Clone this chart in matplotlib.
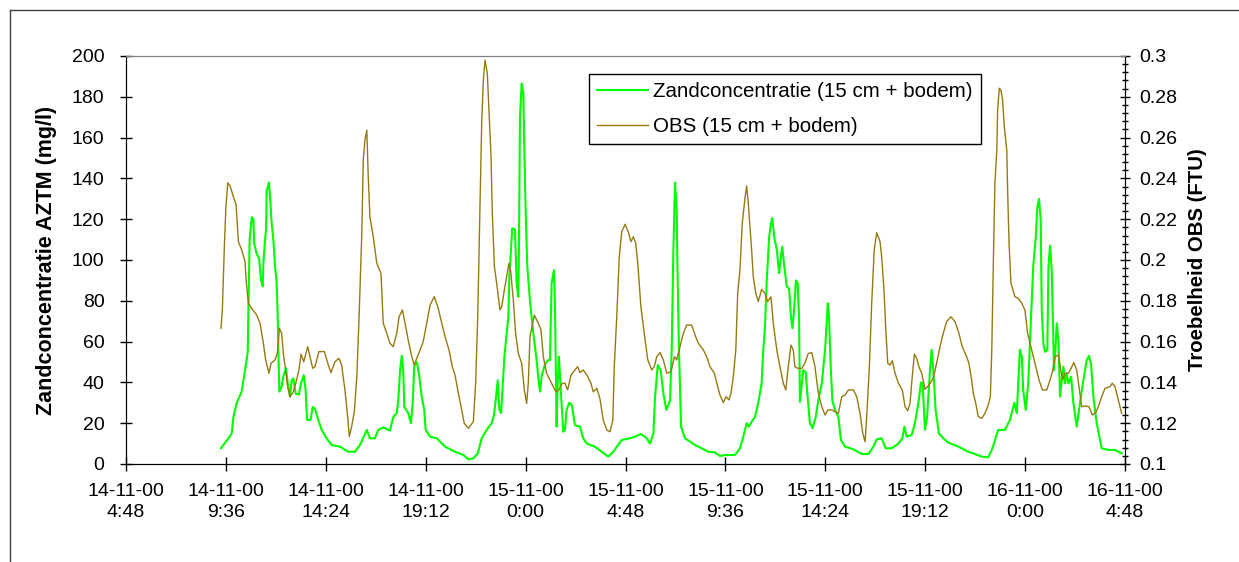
import datetime as dt
import numpy as np
import matplotlib
matplotlib.use("Agg")
import matplotlib.pyplot as plt
from matplotlib.lines import Line2D
from matplotlib.ticker import MultipleLocator, FuncFormatter

plt.rcParams['font.family'] = ['Liberation Sans', 'DejaVu Sans']

# time in hours since 14-11-00 0:00
zand_t = [9.36, 9.72, 9.88, 9.96, 10.12, 10.36, 10.52, 10.65, 10.68, 10.74, 10.84, 10.92, 10.96, 11.08,
          11.19, 11.29, 11.37, 11.40, 11.48, 11.53, 11.56, 11.67, 11.72, 11.80, 11.88, 11.96, 12.04,
          12.09, 12.12, 12.17, 12.28, 12.36, 12.49, 12.57, 12.68, 12.76, 12.84, 12.95, 13.11, 13.21,
          13.34, 13.43, 13.50, 13.67, 13.77, 13.88, 14.04, 14.20, 14.44, 14.68, 15.08, 15.48, 15.80,
          16.04, 16.37, 16.52, 16.76, 16.92, 17.16, 17.48, 17.64, 17.81, 17.88, 17.97, 18.05, 18.12,
          18.17, 18.36, 18.49, 18.58, 18.65, 18.77, 18.88, 19.01, 19.13, 19.20, 19.41, 19.73, 20.13,
          20.61, 21.01, 21.25, 21.49, 21.70, 21.89, 22.13, 22.37, 22.48, 22.58, 22.66, 22.74, 22.82,
          22.88, 22.98, 23.09, 23.17, 23.22, 23.30, 23.36, 23.49, 23.57, 23.65, 23.68, 23.73, 23.81,
          23.89, 23.94, 24.01, 24.08, 24.21, 24.37, 24.53, 24.64, 24.69, 24.77, 24.93, 25.09, 25.17,
          25.25, 25.36, 25.41, 25.49, 25.54, 25.60, 25.69, 25.81, 25.89, 25.97, 26.09, 26.22, 26.37,
          26.61, 26.77, 26.94, 27.33, 27.66, 27.97, 28.21, 28.62, 29.02, 29.26, 29.54, 29.82, 29.98,
          30.14, 30.22, 30.35, 30.49, 30.62, 30.76, 30.94, 31.02, 31.10, 31.18, 31.26, 31.31, 31.37,
          31.47, 31.66, 31.90, 32.14, 32.46, 32.78, 33.10, 33.34, 33.58, 34.06, 34.30, 34.46, 34.62,
          34.73, 34.86, 35.02, 35.18, 35.34, 35.42, 35.50, 35.58, 35.70, 35.79, 35.85, 35.95, 36.07,
          36.18, 36.27, 36.33, 36.43, 36.55, 36.66, 36.75, 36.82, 36.90, 36.99, 37.07, 37.14, 37.18,
          37.27, 37.34, 37.46, 37.55, 37.66, 37.79, 37.94, 38.06, 38.23, 38.39, 38.52, 38.58, 38.66,
          38.74, 38.87, 39.03, 39.15, 39.35, 39.75, 40.15, 40.47, 40.71, 40.87, 41.11, 41.30, 41.59,
          41.91, 42.10, 42.20, 42.31, 42.55, 42.71, 42.87, 43.00, 43.08, 43.19, 43.29, 43.43, 43.51,
          43.59, 43.70, 43.86, 44.07, 44.31, 44.79, 45.27, 45.59, 45.92, 46.23, 46.40, 46.71, 47.03,
          47.27, 47.48, 47.60, 47.67, 47.75, 47.84, 47.91, 48.03, 48.15, 48.24, 48.39, 48.51, 48.59,
          48.67, 48.75, 48.80, 48.88, 48.96, 49.07, 49.12, 49.20, 49.28, 49.33, 49.39, 49.47, 49.52,
          49.60, 49.68, 49.76, 49.84, 49.92, 50.00, 50.08, 50.21, 50.32, 50.48, 50.64, 50.80, 50.96,
          51.07, 51.17, 51.28, 51.44, 51.68, 52.00, 52.32, 52.64]
zand = [7.7, 12.6, 15, 23, 30, 35.5, 46, 55, 75, 110, 121, 120, 108, 103,
        101, 90, 87, 98, 110, 115, 134, 138, 131, 118, 110, 97, 88.6,
        72, 56, 35.5, 38, 43, 47, 39.5, 33, 41, 42, 34.6, 34, 39.5,
        43.6, 36, 21.6, 21.6, 28, 27, 21.6, 16.7, 12.6, 9.3, 8.5, 6, 6,
        9.3, 16.7, 12.6, 12.6, 16.7, 18, 16.3, 23, 25, 31, 46, 53, 46,
        28, 25, 20, 31, 48, 50, 44, 33, 26.5, 16.7, 13.4, 12.6, 8.5,
        6, 4.4, 2.3, 2.8, 5.2, 12.6, 16.7, 20, 24, 33, 41, 26.5, 25,
        34.6, 52.6, 64, 72, 92, 105, 115.5, 115, 88.6, 82, 105, 170, 186.6,
        181.7, 154, 121, 97, 80, 64, 51, 39.5, 35.5, 43, 49, 51, 51,
        88.6, 95, 78.8, 18.3, 39.5, 52.6, 36, 15.8, 16.7, 26.5, 30, 29, 19,
        18.3, 12.6, 10, 8.5, 6, 3.6, 6, 11.8, 12.6, 13.4, 14.7, 12.6, 10,
        15, 33, 48.5, 46, 34.6, 26.5, 31, 56, 105, 138, 124.5, 88.6, 56,
        18.3, 12.6, 11, 9.3, 7.7, 6, 5.7, 3.9, 4.4, 4.4, 7.7, 13.4, 20,
        18.3, 20.7, 23, 30, 39.5, 56, 67, 88.6, 111, 118, 120.5, 111, 105,
        93.5, 101.6, 106.5, 96.7, 87, 86, 72, 66.5, 75.5, 90, 88.6, 72, 30.5,
        39.5, 46, 45, 33, 20, 17.5, 23, 31, 39.5, 56, 78.8, 72, 47.7,
        31, 26.5, 23, 11.8, 8.5, 7.2, 4.9, 4.9, 8.5, 12.1, 12.6, 7.7, 7.7,
        10, 12.6, 18.3, 13.4, 14.2, 20, 30, 40, 39.5, 16.7, 23, 46, 56,
        46, 26.5, 15, 12.6, 10.5, 8.5, 6, 4.9, 3.6, 3.3, 6.9, 16.7, 16.7,
        21.6, 30, 25, 39.5, 56, 52.6, 36, 26.5, 39.5, 60.8, 96.7, 111, 126,
        130, 119.6, 75.5, 59, 55, 56, 96.7, 107, 95, 72, 46, 59, 69,
        60.8, 33, 41, 47.7, 39.5, 44.4, 39.5, 42.8, 30, 18.3, 30, 41, 51,
        53, 49, 33, 20, 7.7, 6.9, 6.9, 5.2]

obs_t = [9.36, 9.43, 9.52, 9.60, 9.69, 9.80, 9.96, 10.09, 10.20, 10.36, 10.52, 10.57, 10.68, 10.84,
         11.08, 11.24, 11.40, 11.51, 11.67, 11.77, 11.96, 12.07, 12.17, 12.28, 12.36, 12.47, 12.57,
         12.68, 12.84, 13.00, 13.11, 13.21, 13.34, 13.53, 13.64, 13.77, 13.88, 14.07, 14.33, 14.52,
         14.65, 14.84, 15.03, 15.16, 15.32, 15.45, 15.53, 15.64, 15.77, 15.89, 16.00, 16.13, 16.20,
         16.28, 16.37, 16.44, 16.52, 16.68, 16.85, 17.05, 17.16, 17.33, 17.48, 17.64, 17.81, 17.92,
         18.08, 18.21, 18.36, 18.53, 18.65, 18.77, 18.93, 19.08, 19.25, 19.41, 19.61, 19.78, 19.97,
         20.13, 20.32, 20.48, 20.61, 20.77, 20.93, 21.05, 21.25, 21.49, 21.60, 21.70, 21.78, 21.89,
         21.97, 22.05, 22.16, 22.24, 22.34, 22.40, 22.50, 22.61, 22.69, 22.77, 22.85, 22.98, 23.09,
         23.20, 23.28, 23.41, 23.52, 23.65, 23.81, 23.94, 24.05, 24.13, 24.21, 24.42, 24.61, 24.74,
         24.85, 25.01, 25.25, 25.45, 25.60, 25.76, 25.89, 26.02, 26.18, 26.37, 26.50, 26.61, 26.77,
         26.94, 27.14, 27.25, 27.42, 27.57, 27.73, 27.90, 28.06, 28.19, 28.26, 28.38, 28.50, 28.62,
         28.78, 28.93, 29.06, 29.18, 29.29, 29.39, 29.54, 29.70, 29.87, 30.06, 30.18, 30.30, 30.46,
         30.62, 30.78, 30.99, 31.15, 31.26, 31.42, 31.58, 31.74, 31.98, 32.17, 32.30, 32.54, 32.70,
         32.86, 33.07, 33.23, 33.34, 33.50, 33.63, 33.77, 33.87, 33.98, 34.10, 34.19, 34.30, 34.41,
         34.54, 34.62, 34.70, 34.78, 34.86, 34.94, 35.06, 35.18, 35.34, 35.50, 35.63, 35.79, 35.90,
         36.07, 36.22, 36.38, 36.50, 36.62, 36.75, 36.86, 36.94, 37.07, 37.27, 37.42, 37.58, 37.75,
         37.90, 38.06, 38.23, 38.39, 38.52, 38.71, 38.87, 39.03, 39.19, 39.35, 39.51, 39.75, 39.91,
         40.07, 40.20, 40.31, 40.39, 40.51, 40.63, 40.75, 40.87, 41.03, 41.11, 41.22, 41.30, 41.40,
         41.51, 41.62, 41.75, 41.91, 42.10, 42.23, 42.36, 42.47, 42.55, 42.68, 42.79, 42.90, 43.03,
         43.19, 43.38, 43.59, 43.75, 43.91, 44.07, 44.23, 44.44, 44.63, 44.82, 44.98, 45.19, 45.30,
         45.43, 45.51, 45.63, 45.75, 45.92, 46.07, 46.23, 46.33, 46.40, 46.47, 46.55, 46.64, 46.68,
         46.76, 46.84, 46.92, 47.00, 47.12, 47.16, 47.23, 47.32, 47.51, 47.67, 47.84, 47.99, 48.12,
         48.28, 48.48, 48.67, 48.83, 49.04, 49.20, 49.31, 49.44, 49.60, 49.71, 49.81, 49.92, 50.08,
         50.21, 50.34, 50.48, 50.59, 50.72, 50.88, 51.07, 51.23, 51.39, 51.52, 51.68, 51.84, 52.08,
         52.19, 52.32, 52.48, 52.64]
obs = [.1665, .1755, .2049, .2261, .2379, .2363, .2310, .2270, .2090, .2049, .1992, .1902, .1788, .1763,
       .1730, .1690, .1592, .1510, .1445, .1494, .1510, .1542, .1665, .1641, .1542, .1461, .1379,
       .1330, .1354, .1412, .1461, .1539, .1501, .1575, .1526, .1469, .1477, .1551, .1551, .1485,
       .1448, .1501, .1518, .1485, .1363, .1232, .1134, .1183, .1256, .1428, .1722, .2131, .2490,
       .2588, .2637, .2408, .2212, .2114, .1984, .1935, .1690, .1641, .1592, .1575, .1641, .1722,
       .1755, .1690, .1608, .1526, .1485, .1518, .1559, .1600, .1690, .1779, .1820, .1771, .1690,
       .1624, .1559, .1477, .1436, .1347, .1265, .1200, .1175, .1207, .1396, .1722, .2131, .2670,
       .2882, .2980, .2915, .2735, .2506, .2229, .1967, .1886, .1820, .1755, .1771, .1853, .1918,
       .1984, .1951, .1804, .1641, .1542, .1494, .1363, .1297, .1396, .1624, .1730, .1690, .1657,
       .1526, .1445, .1396, .1354, .1363, .1396, .1396, .1363, .1436, .1461, .1477, .1448, .1461,
       .1436, .1396, .1354, .1371, .1322, .1216, .1167, .1158, .1216, .1477, .1722, .2016, .2139,
       .2175, .2139, .2090, .2114, .2082, .1984, .1771, .1641, .1510, .1461, .1477, .1526, .1546,
       .1510, .1445, .1452, .1526, .1510, .1575, .1641, .1681, .1681, .1624, .1592, .1559, .1526,
       .1477, .1445, .1379, .1338, .1301, .1330, .1314, .1347, .1428, .1559, .1837, .1951, .2180,
       .2302, .2363, .2278, .2163, .2049, .1918, .1837, .1796, .1856, .1837, .1796, .1820, .1690,
       .1559, .1477, .1396, .1363, .1477, .1583, .1559, .1477, .1469, .1469, .1494, .1542, .1546,
       .1480, .1350, .1281, .1240, .1265, .1265, .1256, .1248, .1330, .1338, .1363, .1363, .1330,
       .1248, .1150, .1109, .1232, .1461, .1788, .2049, .2134, .2090, .2016, .1853, .1673, .1494,
       .1485, .1506, .1445, .1396, .1363, .1281, .1261, .1297, .1396, .1539, .1518, .1477, .1445,
       .1366, .1387, .1420, .1494, .1575, .1641, .1698, .1722, .1698, .1641, .1575, .1526, .1494,
       .1412, .1347, .1297, .1232, .1224, .1248, .1289, .1330, .1559, .1967, .2376, .2539, .2735,
       .2842, .2833, .2784, .2653, .2539, .2343, .2082, .1886, .1820, .1812, .1788, .1755, .1641,
       .1575, .1494, .1412, .1363, .1363, .1412, .1452, .1526, .1534, .1461, .1412, .1445, .1445,
       .1469, .1497, .1461, .1379, .1281, .1284, .1281, .1240, .1251, .1281, .1330, .1371, .1379,
       .1396, .1379, .1314, .1248]

start = dt.datetime(2000, 11, 14)
tick_hours = np.arange(4.8, 52.81, 4.8)


def time_label(h, pos):
    t = start + dt.timedelta(minutes=round(h * 60))
    return f"{t:%d-%m-%y}\n{t.hour}:{t:%M}"


W, H = 1239, 562
fig = plt.figure(figsize=(W / 100, H / 100), dpi=100)
ax = fig.add_axes([126 / W, 1 - 464 / H, 999 / W, 408 / H])
ax2 = ax.twinx()

l1, = ax.plot(zand_t, zand, color='#00FF00', lw=1.5)
l2, = ax2.plot(obs_t, obs, color='#957A12', lw=1.0)

ax.set_xlim(4.8, 52.8)
ax.set_ylim(0, 200)
ax2.set_ylim(0.1, 0.3)

ax.set_xticks(tick_hours)
ax.xaxis.set_major_formatter(FuncFormatter(time_label))
ax.yaxis.set_major_locator(MultipleLocator(20))
ax2.yaxis.set_major_locator(MultipleLocator(0.02))
ax2.yaxis.set_minor_locator(MultipleLocator(0.004))
ax2.yaxis.set_major_formatter(FuncFormatter(lambda v, p: f"{v:.2f}".rstrip('0').rstrip('.')))

for lab in ax.get_xticklabels():
    lab.set_linespacing(1.3)

ax.tick_params(axis='x', direction='inout', length=10, width=1, pad=9, labelsize=14)
ax.tick_params(axis='y', direction='inout', length=9, width=1, pad=11, labelsize=14)
ax2.tick_params(axis='y', which='major', direction='inout', length=7, width=1, pad=7, labelsize=14)
ax2.tick_params(axis='y', which='minor', direction='inout', length=5, width=1)

for a in (ax, ax2):
    a.spines['top'].set_color('#808080')
    for s in ('left', 'bottom', 'right'):
        a.spines[s].set_color('black')

ax.set_ylabel('Zandconcentratie AZTM (mg/l)', fontsize=15.5, fontweight='bold')
ax.yaxis.set_label_coords(-0.069, 0.5)
ax2.set_ylabel('Troebelheid OBS (FTU)', fontsize=14.7, fontweight='bold')
ax2.yaxis.set_label_coords(1.063, 0.5)

leg = ax2.legend([l1, l2], ['Zandconcentratie (15 cm + bodem)', 'OBS (15 cm + bodem)'],
                 loc='upper left', bbox_to_anchor=(0.4635, 0.956), borderaxespad=0,
                 fontsize=14.8, fancybox=False, framealpha=1, edgecolor='black',
                 handlelength=2.5, handletextpad=0.25, labelspacing=0.8, borderpad=0.38)
leg.get_frame().set_linewidth(1)

# outer chart area border
fig.add_artist(Line2D([10 / W, 10 / W], [0, 1 - 10 / H], color='#404040', lw=1))
fig.add_artist(Line2D([10 / W, 1], [1 - 10 / H, 1 - 10 / H], color='#404040', lw=1))

fig.savefig('out.png', dpi=100)
